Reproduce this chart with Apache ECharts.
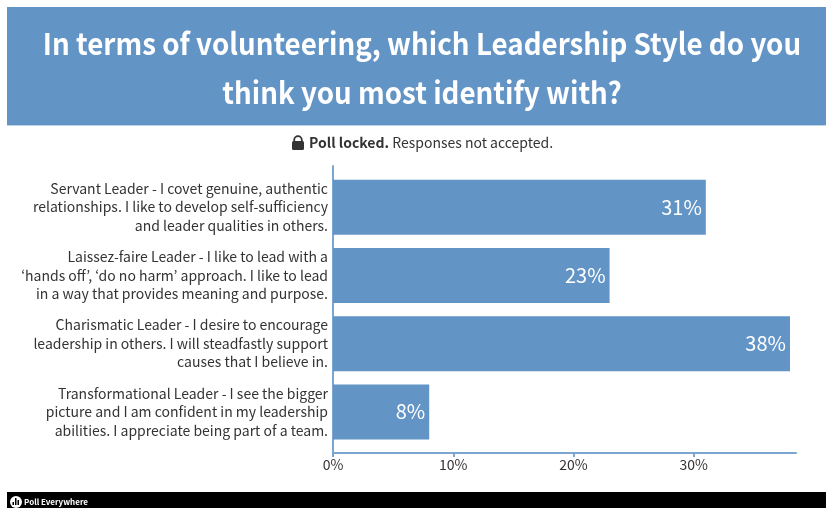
<!DOCTYPE html>
<html>
<head>
<meta charset="utf-8">
<style>html,body{margin:0;padding:0;background:#fff}#chart{width:826px;height:508px}</style>
<script src="https://cdn.jsdelivr.net/npm/echarts@6/dist/echarts.min.js"></script>
</head>
<body>
<div id="chart"></div>
<script>
// Poll results: share of responses per leadership style
const categories = [
  "Servant Leader - I covet genuine, authentic\nrelationships. I like to develop self-sufficiency\nand leader qualities in others.",
  "Laissez-faire Leader - I like to lead with a\n‘hands off’, ‘do no harm’ approach. I like to lead\nin a way that provides meaning and purpose.",
  "Charismatic Leader - I desire to encourage\nleadership in others. I will steadfastly support\ncauses that I believe in.",
  "Transformational Leader - I see the bigger\npicture and I am confident in my leadership\nabilities. I appreciate being part of a team."
];
const shares = [31, 23, 38, 8];
const tickValues = [0, 10, 20, 30];
const axisMax = 38.5;
const titleLines = ["In terms of volunteering, which Leadership Style do you", "think you most identify with?"];

const FONT = '"Noto Sans CJK JP", "Noto Sans", sans-serif';
const BLUE = '#6394c6';
const AXIS = '#7ba6d2';
const INK = '#333333';

const chart = echarts.init(document.getElementById('chart'), null, { renderer: 'canvas' });
chart.setOption({
  animation: false,
  backgroundColor: '#ffffff',
  title: [
    {
      text: '{b|Poll locked.}{r| Responses not accepted.}', left: 309, top: 136, padding: 0,
      textStyle: {
        rich: {
          b: { fontFamily: FONT, fontWeight: 700, fontSize: 14, color: INK },
          r: { fontFamily: FONT, fontWeight: 400, fontSize: 14, color: INK }
        }
      }
    },
    {
      text: 'Poll Everywhere', left: 24, top: 498, padding: 0,
      textStyle: { color: '#fff', fontFamily: FONT, fontWeight: 700, fontSize: 8 }
    }
  ],
  grid: [
    // bars
    { left: 333, right: 30, top: 173, height: 273, outerBoundsMode: 'none' },
    // outer frame carrying the visible axis lines and ticks
    { left: 333, right: 30, top: 166, height: 287, outerBoundsMode: 'none' }
  ],
  xAxis: [
    { gridIndex: 0, type: 'value', min: 0, max: axisMax, show: false },
    {
      gridIndex: 1, type: 'value', min: 0, max: axisMax, position: 'bottom',
      splitLine: { show: false },
      axisLine: { show: true, lineStyle: { color: AXIS, width: 2 } },
      axisTick: { show: true, length: 4, customValues: tickValues, lineStyle: { color: AXIS, width: 2 } },
      axisLabel: {
        customValues: tickValues, margin: 5, color: INK, fontFamily: FONT, fontSize: 14,
        formatter: v => v + '%'
      }
    }
  ],
  yAxis: [
    {
      gridIndex: 0, type: 'category', inverse: true, data: categories,
      axisLine: { show: false }, axisTick: { show: false },
      axisLabel: { margin: 5, color: INK, fontFamily: FONT, fontSize: 14, lineHeight: 18.5, align: 'right' }
    },
    {
      gridIndex: 1, type: 'value', min: 0, max: 1,
      splitLine: { show: false }, axisTick: { show: false }, axisLabel: { show: false },
      axisLine: { show: true, lineStyle: { color: AXIS, width: 2 } }
    }
  ],
  series: [{
    type: 'bar', xAxisIndex: 0, yAxisIndex: 0, data: shares, barWidth: 55,
    itemStyle: { color: BLUE },
    label: {
      show: true, position: 'insideRight', distance: 4, color: '#fff',
      fontFamily: FONT, fontSize: 20, formatter: p => p.value + '%'
    }
  }],
  graphic: [
    // header band behind the question
    { type: 'rect', z: -1, shape: { x: 7, y: 7, width: 819, height: 118 }, style: { fill: BLUE } },
    { type: 'rect', z: -1, shape: { x: 7, y: 125, width: 819, height: 1 }, style: { fill: '#bdd3e8' } },
    // question text, slightly condensed
    {
      type: 'text', z: 5, x: 422, y: 19, scaleX: 0.925,
      style: {
        text: titleLines.join('\n'), fill: '#fff', align: 'center',
        font: '700 30px ' + FONT, lineHeight: 49
      }
    },
    // padlock
    {
      type: 'group', z: 5, children: [
        { type: 'rect', shape: { x: 292, y: 141, width: 12, height: 9, r: 1.5 }, style: { fill: INK } },
        { type: 'arc', shape: { cx: 298, cy: 140, r: 3.8, startAngle: Math.PI, endAngle: 0 }, style: { stroke: INK, lineWidth: 1.8, fill: 'none' } },
        { type: 'line', shape: { x1: 294.2, y1: 140, x2: 294.2, y2: 142 }, style: { stroke: INK, lineWidth: 1.8 } },
        { type: 'line', shape: { x1: 301.8, y1: 140, x2: 301.8, y2: 142 }, style: { stroke: INK, lineWidth: 1.8 } }
      ]
    },
    // footer strip and logo
    { type: 'rect', z: -1, shape: { x: 7, y: 492, width: 819, height: 16 }, style: { fill: '#000' } },
    { type: 'circle', z: 5, shape: { cx: 16, cy: 502, r: 6 }, style: { fill: '#fff' } },
    { type: 'rect', z: 6, shape: { x: 12.5, y: 502, width: 1.5, height: 3 }, style: { fill: '#000' } },
    { type: 'rect', z: 6, shape: { x: 15, y: 498, width: 1.5, height: 7 }, style: { fill: '#000' } },
    { type: 'rect', z: 6, shape: { x: 17.5, y: 500, width: 1.5, height: 5 }, style: { fill: '#000' } }
  ]
});
</script>
</body>
</html>
